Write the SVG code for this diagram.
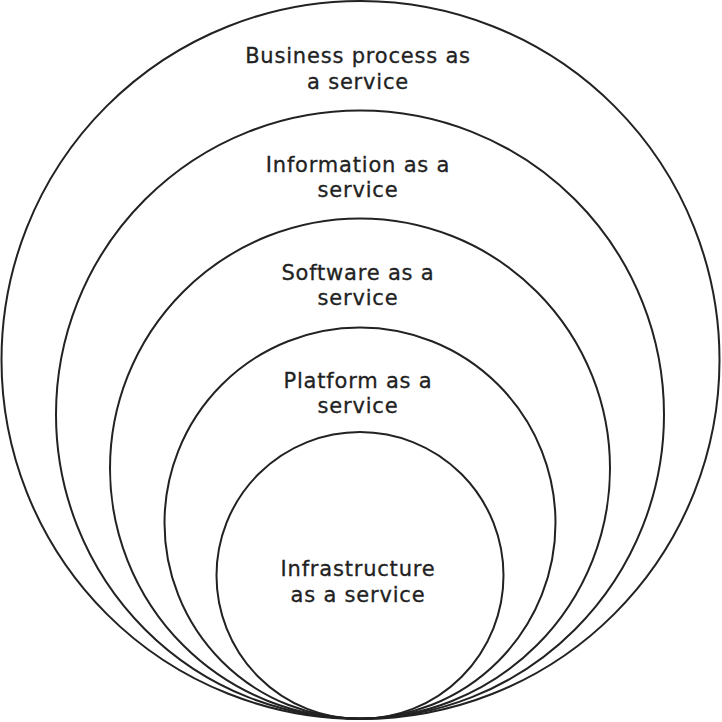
<svg xmlns="http://www.w3.org/2000/svg" width="722" height="722" viewBox="0 0 722 722">
<style>
.ring{fill:none;stroke:#222;stroke-width:2}
.lbl{font-family:"DejaVu Sans","Liberation Sans",Arial,sans-serif;font-size:21px;fill:#222;stroke:#222;stroke-width:0.3;text-anchor:middle;letter-spacing:0.8px}
</style>
<rect width="722" height="722" fill="#fff"/>
<g id="bpaas"><circle class="ring" cx="360.5" cy="360" r="359"/>
<text class="lbl" x="358" y="63">Business process as</text><text class="lbl" x="358" y="89">a service</text></g>
<g id="iaas-info"><circle class="ring" cx="360" cy="414.5" r="304"/>
<text class="lbl" x="358" y="172">Information as a</text><text class="lbl" x="358" y="197">service</text></g>
<g id="saas"><circle class="ring" cx="360" cy="468.5" r="250"/>
<text class="lbl" x="358" y="280">Software as a</text><text class="lbl" x="358" y="305">service</text></g>
<g id="paas"><circle class="ring" cx="360" cy="523" r="195.5"/>
<text class="lbl" x="358" y="388">Platform as a</text><text class="lbl" x="358" y="413">service</text></g>
<g id="iaas"><circle class="ring" cx="360" cy="575.5" r="143.5"/>
<text class="lbl" x="358" y="576">Infrastructure</text><text class="lbl" x="358" y="602">as a service</text></g>
<g id="connectors"/>
</svg>
